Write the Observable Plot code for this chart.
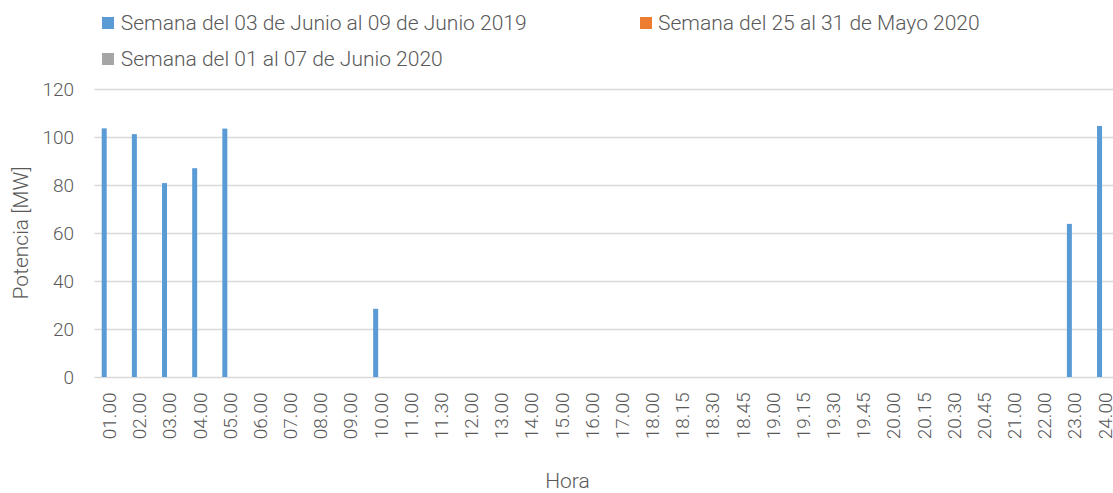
<!DOCTYPE html>
<html>
<head>
<meta charset="utf-8">
<script src="https://cdn.jsdelivr.net/npm/d3@7"></script>
<script src="https://cdn.jsdelivr.net/npm/@observablehq/plot@0.6"></script>
<style>
  html, body { margin: 0; padding: 0; background: #fff; }
  #wrap { position: relative; width: 1113px; height: 493px; font-family: Roboto, "DejaVu Sans", sans-serif; font-weight: 300; color: #595959; overflow: hidden; }
  .leg { position: absolute; display: flex; align-items: center; font-size: 21px; white-space: nowrap; }
  .sw { width: 12px; height: 12px; margin-right: 6.5px; }
  .lab { position: absolute; font-size: 21px; white-space: nowrap; }
</style>
</head>
<body>
<div id="wrap"></div>
<script>
const hours = ["01.00","02.00","03.00","04.00","05.00","06.00","07.00","08.00","09.00","10.00","11.00","11.30","12.00","13.00","14.00","15.00","16.00","17.00","18.00","18.15","18.30","18.45","19.00","19.15","19.30","19.45","20.00","20.15","20.30","20.45","21.00","22.00","23.00","24.00"];
const seriesNames = ["Semana del 03 de Junio al 09 de Junio 2019", "Semana del 25 al 31 de Mayo 2020", "Semana del 01 al 07 de Junio 2020"];
const seriesColors = ["#5b9bd5", "#ed7d31", "#a5a5a5"];
const s2019 = [103.6,101.2,80.8,87.0,103.5,0,0,0,0,28.4,0,0,0,0,0,0,0,0,0,0,0,0,0,0,0,0,0,0,0,0,0,0,63.8,104.6];
const sMayo2020 = [0,0,0,0,0,0,0,0,0,0,0,0,0,0,0,0,0,0,0,0,0,0,0,0,0,0,0,0,0,0,0,0,0,0];
const sJunio2020 = [0,0,0,0,0,0,0,0,0,0,0,0,0,0,0,0,0,0,0,0,0,0,0,0,0,0,0,0,0,0,0,0,0,0];
const yTicks = [0,20,40,60,80,100,120];

const allSeries = [s2019, sMayo2020, sJunio2020];
const W = 1120, H = 493, mL = 94.5, mR = 0, mT = 89, mB = 116;
const band = (W - mL - mR) / hours.length;
const barW = 5, offset = 7.2;

const marks = [Plot.ruleY(yTicks, {stroke: "#d9d9d9", strokeWidth: 1.5})];
allSeries.forEach((vals, i) => {
  const data = hours.map((h, j) => ({hora: h, v: vals[j]}));
  marks.push(Plot.barY(data, {
    x: "hora", y: "v", fill: seriesColors[i],
    insetLeft: offset + i * barW,
    insetRight: band - offset - (i + 1) * barW
  }));
});

const chart = Plot.plot({
  width: W, height: H,
  marginLeft: mL, marginRight: mR, marginTop: mT, marginBottom: mB,
  style: {fontFamily: "Roboto, 'DejaVu Sans', sans-serif", fontWeight: 300, fontSize: "19px", color: "#595959", background: "transparent", maxWidth: "none"},
  x: {domain: hours, padding: 0, round: false, tickSize: 0, tickPadding: 15, tickRotate: -90, label: null},
  y: {domain: [0, 120], ticks: yTicks, tickSize: 0, tickPadding: 21, label: null, tickFormat: d => String(d)},
  marks
});

const wrap = document.getElementById("wrap");
wrap.appendChild(chart);
chart.style.position = "absolute";
chart.style.left = "0"; chart.style.top = "0";
chart.style.maxWidth = "none";

const legPos = [[102.3, 22.7], [639.5, 22.7], [102.3, 58.7]];
seriesNames.forEach((n, i) => {
  const d = document.createElement("div");
  d.className = "leg";
  d.style.left = legPos[i][0] + "px";
  d.style.top = (legPos[i][1] - 13) + "px";
  d.style.height = "26px";
  d.innerHTML = `<div class="sw" style="background:${seriesColors[i]}"></div><span>${n}</span>`;
  wrap.appendChild(d);
});

const yl = document.createElement("div");
yl.className = "lab";
yl.textContent = "Potencia [MW]";
yl.style.left = "21px"; yl.style.top = "233px";
yl.style.transform = "translate(-50%, -50%) rotate(-90deg)";
wrap.appendChild(yl);

const xl = document.createElement("div");
xl.className = "lab";
xl.textContent = "Hora";
xl.style.left = "567.5px"; xl.style.top = "481px";
xl.style.transform = "translate(-50%, -50%)";
wrap.appendChild(xl);
</script>
</body>
</html>
